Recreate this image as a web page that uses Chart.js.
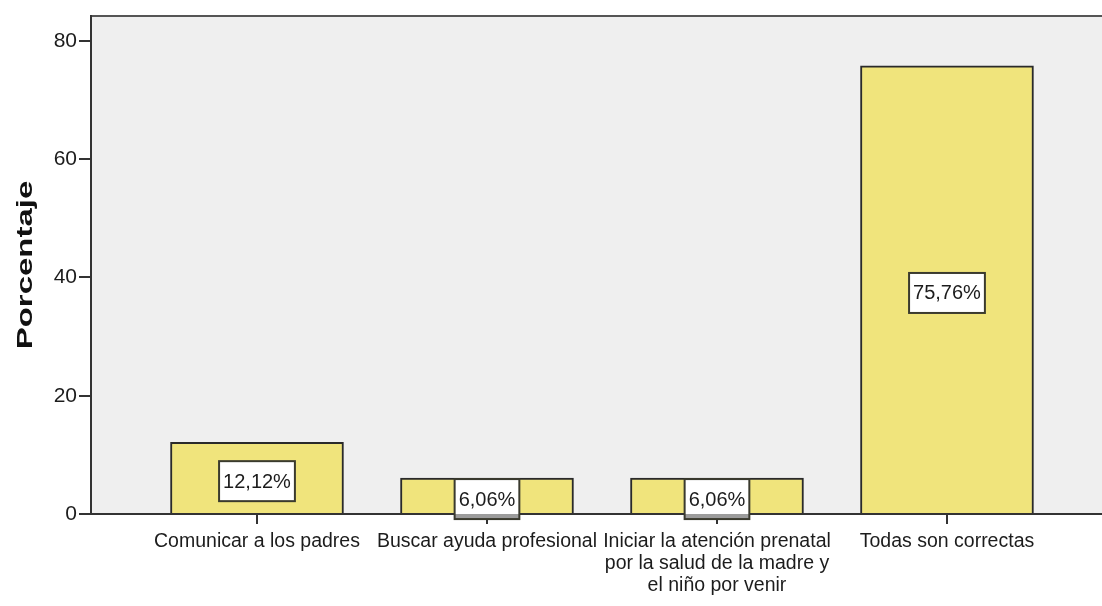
<!DOCTYPE html>
<html>
<head>
<meta charset="utf-8">
<script src="https://cdn.jsdelivr.net/npm/chart.js@4.4.1/dist/chart.umd.min.js"></script>
<style>
  body { margin: 0; background: #fff; }
  #wrap { width: 1102px; height: 606px; }
</style>
</head>
<body>
<div id="wrap"><canvas id="chart"></canvas></div>
<script>
const categories = [
  'Comunicar a los padres',
  'Buscar ayuda profesional',
  ['Iniciar la atención prenatal', 'por la salud de la madre y', 'el niño por venir'],
  'Todas son correctas'
];
const percentages = [12.12, 6.06, 6.06, 75.76];
const valueLabels = ['12,12%', '6,06%', '6,06%', '75,76%'];
const yTicks = [0, 20, 40, 60, 80];
const yTitle = 'Porcentaje';

const family = '"Liberation Sans", Arial, sans-serif';

// grey plot area + top frame line
const plotBackground = {
    id: 'plotBackground',
    beforeDraw(chart) {
        const { ctx, chartArea: a } = chart;
        ctx.save();
        ctx.fillStyle = '#efefef';
        ctx.fillRect(a.left, a.top, a.right - a.left, a.bottom - a.top);
        ctx.strokeStyle = '#555';
        ctx.lineWidth = 2;
        ctx.beginPath();
        ctx.moveTo(a.left, a.top);
        ctx.lineTo(a.right, a.top);
        ctx.stroke();
        ctx.restore();
    }
};

// white boxes with the percentage in the middle of each bar
const boxLabels = {
    id: 'boxLabels',
    afterDatasetsDraw(chart) {
        const { ctx, chartArea } = chart;
        const y = chart.scales.y;
        const meta = chart.getDatasetMeta(0);
        ctx.save();
        ctx.font = '20px ' + family;
        ctx.textAlign = 'center';
        ctx.textBaseline = 'middle';
        meta.data.forEach((bar, i) => {
            const cy = y.getPixelForValue(percentages[i] / 2) + 3;
            const w = ctx.measureText(valueLabels[i]).width + 8;
            const h = 40;
            const left = bar.x - w / 2;
            const top = cy - h / 2;
            ctx.fillStyle = '#fff';
            ctx.fillRect(left, top, w, h);
            const below = top + h - chartArea.bottom;
            if (below > 0) {
                ctx.fillStyle = '#9c9c9c';
                ctx.fillRect(left, chartArea.bottom, w, below);
            }
            ctx.strokeStyle = '#3a3a2e';
            ctx.lineWidth = 2;
            ctx.strokeRect(left, top, w, h);
            ctx.fillStyle = '#1c1c1c';
            ctx.fillText(valueLabels[i], bar.x, cy + 1);
        });
        ctx.restore();
    }
};

// stretched bold axis title, like the original export
const yAxisTitle = {
    id: 'yAxisTitle',
    afterDraw(chart) {
        const { ctx, chartArea: a } = chart;
        ctx.save();
        ctx.translate(26, (a.top + a.bottom) / 2);
        ctx.rotate(-Math.PI / 2);
        ctx.scale(1.5, 1);
        ctx.font = 'bold 22px ' + family;
        ctx.textAlign = 'center';
        ctx.textBaseline = 'middle';
        ctx.fillStyle = '#111';
        ctx.fillText(yTitle, 0, 0);
        ctx.restore();
    }
};

const ctx = document.getElementById('chart').getContext('2d');
const chart = new Chart(ctx, {
    type: 'bar',
    data: {
        datasets: [{
            label: yTitle,
            data: percentages.map((v, i) => ({ x: i, y: v })),
            backgroundColor: '#f0e47c',
            borderColor: '#2a2a2a',
            borderWidth: 2,
            barThickness: 173
        }]
    },
    options: {
        responsive: true,
        maintainAspectRatio: false,
        animation: false,
        layout: { padding: { top: 16, right: 0, left: 0, bottom: 0 } },
        plugins: {
            legend: { display: false },
            tooltip: { enabled: false }
        },
        scales: {
            x: {
                type: 'linear',
                offset: false,
                min: -0.7217,
                max: 3.674,
                afterBuildTicks: s => { s.ticks = categories.map((c, i) => ({ value: i })); },
                afterFit: s => { s.height = 92; },
                grid: { offset: false, drawOnChartArea: false, tickLength: 10, color: '#333', lineWidth: 2 },
                border: { color: '#333', width: 2 },
                ticks: {
                    autoSkip: false,
                    maxRotation: 0,
                    color: '#1c1c1c',
                    padding: 6,
                    font: { size: 19.5, family: family, lineHeight: 1.15 },
                    callback: v => categories[v]
                }
            },
            y: {
                min: 0,
                max: 84.2,
                afterBuildTicks: s => { s.ticks = yTicks.map(v => ({ value: v })); },
                afterFit: s => { s.width = 91; },
                grid: { drawOnChartArea: false, tickLength: 12, color: '#333', lineWidth: 2 },
                border: { color: '#333', width: 2 },
                ticks: {
                    color: '#1c1c1c',
                    padding: 2,
                    font: { size: 21, family: family }
                }
            }
        }
    },
    plugins: [plotBackground, boxLabels, yAxisTitle]
});
</script>
</body>
</html>
